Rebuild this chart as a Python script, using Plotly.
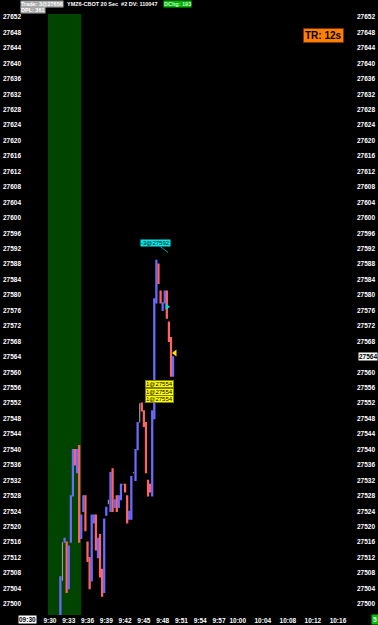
import plotly.graph_objects as go
import pandas as pd

# ---- data (20-second bars, YMZ6) ----
bar_start = "2016-11-01 09:31:40"
bar_open = [27497, 27511, 27516, 27516, 27504, 27516, 27528, 27540, 27534, 27541,
            27517, 27524, 27528, 27516, 27512, 27506, 27521, 27523, 27512, 27518,
            27509, 27503, 27523, 27526, 27524, 27535, 27525, 27528, 27525, 27527,
            27531, 27531, 27528, 27522, 27522, 27534, 27532, 27540, 27550, 27552,
            27550, 27547, 27532, 27531, 27528, 27548, 27578, 27588, 27581, 27576,
            27578, 27581, 27573, 27569, 27559]
bar_high = [27507, 27516, 27517, 27516, 27515, 27528, 27540, 27540, 27540, 27541,
            27523, 27528, 27528, 27516, 27512, 27523, 27523, 27523, 27517, 27518,
            27509, 27522, 27525, 27527, 27534, 27535, 27527, 27528, 27528, 27531,
            27531, 27531, 27528, 27524, 27533, 27534, 27540, 27547, 27552, 27552,
            27550, 27547, 27532, 27531, 27550, 27579, 27589, 27588, 27581, 27578,
            27581, 27581, 27573, 27569, 27564]
bar_low = [27497, 27506, 27516, 27503, 27504, 27516, 27528, 27536, 27534, 27516,
           27517, 27524, 27519, 27511, 27504, 27506, 27521, 27514, 27512, 27507,
           27502, 27503, 27523, 27526, 27524, 27524, 27525, 27524, 27525, 27527,
           27531, 27529, 27521, 27522, 27522, 27534, 27532, 27540, 27547, 27550,
           27546, 27534, 27528, 27529, 27528, 27548, 27578, 27583, 27578, 27576,
           27578, 27574, 27568, 27559, 27559]
bar_close = [27507, 27511, 27517, 27503, 27515, 27528, 27540, 27536, 27540, 27516,
             27523, 27528, 27519, 27511, 27504, 27523, 27523, 27514, 27517, 27507,
             27502, 27522, 27525, 27526, 27534, 27524, 27527, 27524, 27528, 27531,
             27531, 27529, 27521, 27524, 27533, 27534, 27540, 27547, 27550, 27550,
             27546, 27534, 27528, 27529, 27550, 27579, 27589, 27583, 27578, 27578,
             27581, 27574, 27568, 27559, 27564]

price_ticks = list(range(27500, 27653, 4))
time_tickvals = ["09:30", "09:33", "09:36", "09:39", "09:42", "09:45", "09:48", "09:51",
                 "09:54", "09:57", "10:00", "10:04", "10:08", "10:12", "10:16"]
time_ticktext = ["9:30", "9:33", "9:36", "9:39", "9:42", "9:45", "9:48", "9:51",
                 "9:54", "9:57", "10:00", "10:04", "10:08", "10:12", "10:16"]
last_price = 27564

DAY = "2016-11-01 "
times = pd.date_range(bar_start, periods=len(bar_close), freq="20s")
df = pd.DataFrame({"t": times, "o": bar_open, "h": bar_high, "l": bar_low, "c": bar_close})
doji = df[df.o == df.c]
body = df[df.o != df.c]

BLUE = "#6b6bff"
RED = "#ff6464"
GRAY = "#9a9a9a"

fig = go.Figure()
fig.add_trace(go.Candlestick(
    x=body.t, open=body.o, high=body.h, low=body.l, close=body.c,
    increasing=dict(line=dict(color=BLUE, width=1.2), fillcolor=BLUE),
    decreasing=dict(line=dict(color=RED, width=1.2), fillcolor=RED),
    whiskerwidth=0, showlegend=False, hoverinfo="skip"))
fig.add_trace(go.Candlestick(
    x=doji.t, open=doji.o, high=doji.h, low=doji.l, close=doji.c,
    increasing=dict(line=dict(color=GRAY, width=1.2), fillcolor=GRAY),
    decreasing=dict(line=dict(color=GRAY, width=1.2), fillcolor=GRAY),
    whiskerwidth=0, showlegend=False, hoverinfo="skip"))
# markers
fig.add_trace(go.Scatter(x=[pd.Timestamp(DAY + "09:48:41")], y=[27577],
                         mode="markers", marker=dict(symbol="triangle-right", size=6, color="#00e0e0"),
                         showlegend=False, hoverinfo="skip"))
fig.add_trace(go.Scatter(x=[pd.Timestamp(DAY + "09:49:58")], y=[27565],
                         mode="markers", marker=dict(symbol="triangle-left", size=6, color="#ffe000"),
                         showlegend=False, hoverinfo="skip"))
# dummy for second axis
fig.add_trace(go.Scatter(x=[pd.Timestamp(DAY + "09:30")], y=[27500], yaxis="y2",
                         mode="markers", marker=dict(opacity=0), showlegend=False, hoverinfo="skip"))

# session shading
fig.add_shape(type="rect", xref="x", yref="paper",
              x0=pd.Timestamp(DAY + "09:29:40"), x1=pd.Timestamp(DAY + "09:35:00"),
              y0=0, y1=1, fillcolor="rgb(0,68,0)", line=dict(width=0), layer="below")

FONT = "Liberation Sans"
tickfont = dict(family=FONT, size=6.5, color="white", weight="bold")
xrange_ = [pd.Timestamp(DAY + "09:25:32"), pd.Timestamp(DAY + "10:18:53")]
yrange_ = [27497.15, 27652.78]
right_ticks = [p for p in price_ticks if p != last_price]

fig.update_layout(
    width=378, height=625,
    margin=dict(l=22, r=22, t=14, b=10),
    paper_bgcolor="black", plot_bgcolor="black",
    xaxis=dict(range=xrange_, type="date", rangeslider=dict(visible=False), automargin=False,
               tickvals=[pd.Timestamp(DAY + v) for v in time_tickvals], ticktext=time_ticktext,
               showgrid=False, zeroline=False, showline=False, ticks="", tickfont=tickfont),
    yaxis=dict(range=yrange_, side="right", tickvals=right_ticks, tickformat="d", automargin=False,
               showgrid=False, zeroline=False, showline=False, ticks="", tickfont=tickfont),
    yaxis2=dict(range=yrange_, side="left", overlaying="y", tickvals=price_ticks, tickformat="d",
                automargin=False,
                showgrid=False, zeroline=False, showline=False, ticks="", tickfont=tickfont),
    font=dict(family=FONT),
)

small = dict(family=FONT, size=6)
head = dict(family=FONT, size=5.5, weight="bold")
lab = dict(family=FONT, size=6.5, weight="bold")
ann = []
ann.append(dict(text="Trade: 3@27656", xref="paper", yref="paper", x=-0.006, y=1.0166,
                xanchor="left", yanchor="middle", bgcolor="#a8a8a8", borderpad=0,
                font=dict(head, color="white"), showarrow=False))
ann.append(dict(text="YMZ6-CBOT 20 Sec  #2 DV: 110047", xref="paper", yref="paper", x=0.1317, y=1.0166,
                xanchor="left", yanchor="middle", borderpad=0,
                font=dict(head, color="white"), showarrow=False))
ann.append(dict(text="DChg: 193", xref="paper", yref="paper", x=0.4222, y=1.0166,
                xanchor="left", yanchor="middle", bgcolor="#00b000", borderpad=0,
                font=dict(head, color="#c8ffc8"), showarrow=False))
ann.append(dict(text="DPL: 361", xref="paper", yref="paper", x=-0.006, y=1.0067,
                xanchor="left", yanchor="middle", bgcolor="#a8a8a8", borderpad=0,
                font=dict(head, color="white"), showarrow=False))
ann.append(dict(text="TR: 12s", xref="paper", yref="paper", x=0.904, y=0.9634,
                xanchor="center", yanchor="middle", bgcolor="#ff8000", borderpad=1,
                bordercolor="#803000", borderwidth=1,
                font=dict(family=FONT, size=10, color="black", weight="bold"), showarrow=False))
ann.append(dict(text=str(last_price), xref="paper", yref="y", x=1.036, y=last_price,
                xanchor="center", yanchor="middle", bgcolor="white", borderpad=0,
                font=dict(lab, color="black"), showarrow=False))
ann.append(dict(text="09:30", xref="paper", yref="paper", x=0.015, y=-0.0083,
                xanchor="center", yanchor="middle", bgcolor="white", borderpad=0,
                font=dict(lab, color="black"), showarrow=False))
ann.append(dict(text="5", xref="paper", yref="paper", x=1.0554, y=-0.0083,
                xanchor="center", yanchor="middle", bgcolor="#00c000", borderpad=1,
                font=dict(lab, color="white"), showarrow=False))
ann.append(dict(text="-3@27592", x=pd.Timestamp(DAY + "09:48:53"), y=27591, xref="x", yref="y",
                ax=-13, ay=-10, showarrow=True, arrowhead=0, arrowcolor="#00a0a0", arrowwidth=1,
                bgcolor="#00e8e8", borderpad=0, font=dict(small, color="black")))
for py in [27557, 27555, 27553]:
    ann.append(dict(text="1@27554", x=pd.Timestamp(DAY + "09:47:34"), y=py, xref="x", yref="y",
                    showarrow=False, bgcolor="#ffff00", borderpad=0, bordercolor="#808000", borderwidth=1,
                    font=dict(small, color="black")))
fig.update_layout(annotations=ann)

fig.write_html("out.html")
